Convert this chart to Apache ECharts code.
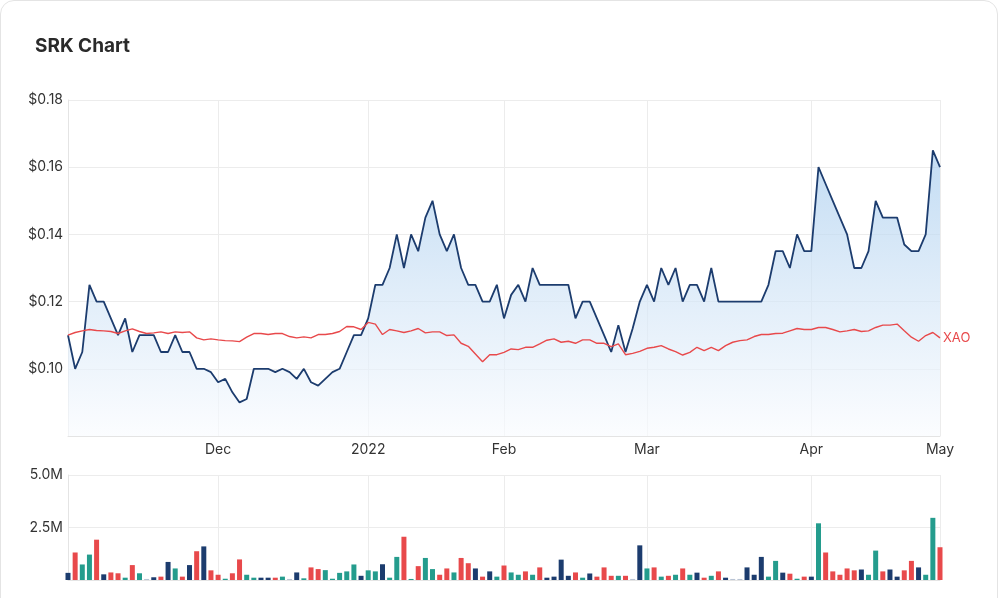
<!DOCTYPE html>
<html>
<head>
<meta charset="utf-8">
<title>SRK Chart</title>
<script src="https://cdn.jsdelivr.net/npm/echarts@6/dist/echarts.min.js"></script>
<style>
  html, body { margin: 0; padding: 0; background: #fff; overflow: hidden; }
  #card {
    position: absolute; left: 0; top: 0; width: 998px; height: 660px;
    border: 1px solid #e4e4e4; border-radius: 14px; box-sizing: border-box;
  }
  #chart { position: absolute; left: 0; top: 0; width: 1000px; height: 598px; }
</style>
</head>
<body>
<div id="card"></div>
<div id="chart"></div>
<script>
// trading days (ASX) from first to last session shown
const startDate = "2021-11-02";
const endDate = "2022-05-02";
const holidays = ["2021-12-27", "2021-12-28", "2022-01-03", "2022-01-26",
  "2022-04-15", "2022-04-18", "2022-04-25"];

// month labels on the x axis
const tickDates = ["2021-12-01", "2022-01-04", "2022-02-01", "2022-03-01", "2022-04-01", "2022-05-02"];
const tickLabels = ["Dec", "2022", "Feb", "Mar", "Apr", "May"];

// SRK close ($)
const srkClose = [
  0.110, 0.100, 0.105, 0.125, 0.120, 0.120, 0.115, 0.110, 0.115, 0.105,
  0.110, 0.110, 0.110, 0.105, 0.105, 0.110, 0.105, 0.105, 0.100, 0.100,
  0.099, 0.096, 0.097, 0.093, 0.090, 0.091, 0.100, 0.100, 0.100, 0.099,
  0.100, 0.099, 0.097, 0.100, 0.096, 0.095, 0.097, 0.099, 0.100, 0.105,
  0.110, 0.110, 0.115, 0.125, 0.125, 0.130, 0.140, 0.130, 0.140, 0.135,
  0.145, 0.150, 0.140, 0.135, 0.140, 0.130, 0.125, 0.125, 0.120, 0.120,
  0.125, 0.115, 0.122, 0.125, 0.120, 0.130, 0.125, 0.125, 0.125, 0.125,
  0.125, 0.115, 0.120, 0.120, 0.115, 0.110, 0.105, 0.113, 0.105, 0.112,
  0.120, 0.125, 0.120, 0.130, 0.125, 0.130, 0.120, 0.125, 0.125, 0.120,
  0.130, 0.120, 0.120, 0.120, 0.120, 0.120, 0.120, 0.120, 0.125, 0.135,
  0.135, 0.130, 0.140, 0.135, 0.135, 0.160, 0.155, 0.150, 0.145, 0.140,
  0.130, 0.130, 0.135, 0.150, 0.145, 0.145, 0.145, 0.137, 0.135, 0.135,
  0.140, 0.165, 0.160
];

// XAO, rebased onto the SRK price scale
const xaoRebased = [
  0.1100, 0.1108, 0.1113, 0.1117, 0.1114, 0.1113, 0.1111, 0.1105, 0.1113, 0.1119,
  0.1111, 0.1105, 0.1107, 0.1110, 0.1105, 0.1110, 0.1108, 0.1110, 0.1092, 0.1086,
  0.1089, 0.1086, 0.1084, 0.1083, 0.1081, 0.1094, 0.1105, 0.1105, 0.1102, 0.1105,
  0.1105, 0.1096, 0.1092, 0.1095, 0.1092, 0.1102, 0.1102, 0.1105, 0.1111, 0.1126,
  0.1125, 0.1117, 0.1138, 0.1133, 0.1102, 0.1117, 0.1113, 0.1108, 0.1113, 0.1120,
  0.1107, 0.1110, 0.1110, 0.1099, 0.1101, 0.1076, 0.1067, 0.1044, 0.1021, 0.1042,
  0.1042, 0.1049, 0.1059, 0.1057, 0.1064, 0.1064, 0.1074, 0.1085, 0.1089, 0.1079,
  0.1082, 0.1076, 0.1086, 0.1086, 0.1076, 0.1076, 0.1066, 0.1074, 0.1042, 0.1046,
  0.1052, 0.1061, 0.1064, 0.1069, 0.1059, 0.1051, 0.1041, 0.1049, 0.1064, 0.1054,
  0.1064, 0.1054, 0.1069, 0.1079, 0.1084, 0.1086, 0.1096, 0.1102, 0.1102, 0.1105,
  0.1106, 0.1113, 0.1120, 0.1117, 0.1117, 0.1123, 0.1123, 0.1117, 0.1110, 0.1113,
  0.1117, 0.1111, 0.1113, 0.1123, 0.1130, 0.1130, 0.1133, 0.1113, 0.1094, 0.1082,
  0.1099, 0.1108, 0.1092
];

// volume (millions of shares)
const volumeM = [
  0.34, 1.31, 0.74, 1.21, 1.92, 0.27, 0.36, 0.32, 0.11, 0.71,
  0.32, 0.05, 0.13, 0.16, 0.86, 0.55, 0.16, 0.71, 1.37, 1.60,
  0.46, 0.25, 0.06, 0.32, 0.98, 0.25, 0.11, 0.11, 0.11, 0.11,
  0.16, 0.05, 0.36, 0.08, 0.60, 0.52, 0.47, 0.06, 0.34, 0.41,
  0.74, 0.20, 0.46, 0.41, 0.75, 0.11, 1.10, 2.06, 0.05, 0.66,
  1.05, 0.52, 0.25, 0.55, 0.36, 1.05, 0.80, 0.55, 0.16, 0.41,
  0.16, 0.69, 0.36, 0.25, 0.41, 0.25, 0.60, 0.11, 0.16, 0.97,
  0.20, 0.36, 0.11, 0.31, 0.16, 0.60, 0.20, 0.20, 0.20, 0.05,
  1.65, 0.55, 0.60, 0.16, 0.20, 0.25, 0.55, 0.25, 0.35, 0.11,
  0.20, 0.41, 0.11, 0.05, 0.05, 0.60, 0.25, 1.10, 0.16, 0.91,
  0.35, 0.30, 0.06, 0.16, 0.16, 2.70, 1.31, 0.41, 0.25, 0.55,
  0.46, 0.50, 0.25, 1.40, 0.41, 0.50, 0.16, 0.46, 0.91, 0.60,
  0.25, 2.96, 1.56
];

// day move for each volume bar: u = up, d = down, f = flat, n = no move / thin
const volumeMove = [
  "f","d","u","u","d","f","d","d","u","d",
  "u","n","f","d","f","u","d","f","d","f",
  "d","d","u","d","d","u","u","f","f","d",
  "u","n","f","u","d","d","u","u","u","u",
  "u","f","u","u","f","u","u","d","u","d",
  "u","u","d","d","u","d","d","f","d","f",
  "u","d","u","u","d","u","d","f","f","f",
  "f","d","u","f","d","d","d","u","d","n",
  "f","u","d","u","d","u","d","u","f","d",
  "u","d","f","n","n","f","f","f","u","u",
  "f","d","u","d","f","u","d","d","d","d",
  "d","f","u","u","d","f","f","d","d","f",
  "u","u","d"
];

const NAVY = "#1c3c6e";
const RED = "#e8494b";
const TEAL = "#249c8d";
const moveColors = { u: TEAL, d: RED, f: NAVY, n: "#b9c4d4" };

const tradingDays = [];
(function () {
  let d = new Date(startDate + "T00:00:00Z");
  const end = new Date(endDate + "T00:00:00Z");
  while (d <= end) {
    const s = d.toISOString().slice(0, 10);
    const wd = d.getUTCDay();
    if (wd !== 0 && wd !== 6 && holidays.indexOf(s) < 0) tradingDays.push(s);
    d = new Date(d.getTime() + 86400000);
  }
})();

const isTick = (idx, val) => tickDates.indexOf(val) >= 0;
const FONT = "Inter, 'Noto Sans', sans-serif";

const chart = echarts.init(document.getElementById("chart"));

const option = {
  animation: false,
  textStyle: { fontFamily: FONT },
  title: {
    text: "SRK Chart",
    left: 30,
    top: 32,
    textStyle: { fontSize: 19, fontWeight: "bold", color: "#2a2a2a", fontFamily: FONT }
  },
  grid: [
    { left: 68, right: 60, top: 100, height: 336 },
    { left: 68, right: 60, top: 475, height: 105 }
  ],
  xAxis: [
    {
      type: "category",
      gridIndex: 0,
      data: tradingDays,
      boundaryGap: false,
      axisLine: { lineStyle: { color: "#e4e4e4" } },
      axisTick: { show: false },
      axisLabel: {
        interval: isTick,
        formatter: v => tickLabels[tickDates.indexOf(v)] || "",
        color: "#333",
        fontSize: 14,
        margin: 7
      },
      splitLine: { show: true, interval: isTick, lineStyle: { color: "#ececec" } }
    },
    {
      type: "category",
      gridIndex: 1,
      data: tradingDays,
      boundaryGap: false,
      axisLine: { lineStyle: { color: "#e4e4e4" } },
      axisTick: { show: false },
      axisLabel: { show: false },
      splitLine: { show: true, interval: isTick, lineStyle: { color: "#ececec" } }
    }
  ],
  yAxis: [
    {
      type: "value",
      gridIndex: 0,
      min: 0.08,
      max: 0.18,
      interval: 0.02,
      axisLine: { show: true, lineStyle: { color: "#e4e4e4" } },
      axisTick: { show: false },
      axisLabel: {
        color: "#333",
        fontSize: 14,
        margin: 5,
        formatter: v => (v < 0.09 ? "" : "$" + v.toFixed(2))
      },
      splitLine: { lineStyle: { color: "#ececec" } }
    },
    {
      type: "value",
      gridIndex: 1,
      min: 0,
      max: 5,
      interval: 2.5,
      axisLine: { show: true, lineStyle: { color: "#e4e4e4" } },
      axisTick: { show: false },
      axisLabel: {
        color: "#333",
        fontSize: 14,
        margin: 5,
        formatter: v => (v === 0 ? "" : v.toFixed(1) + "M")
      },
      splitLine: { lineStyle: { color: "#ececec" } }
    }
  ],
  series: [
    {
      name: "SRK",
      type: "line",
      xAxisIndex: 0,
      yAxisIndex: 0,
      data: srkClose,
      showSymbol: false,
      lineStyle: { color: NAVY, width: 1.8 },
      areaStyle: {
        color: new echarts.graphic.LinearGradient(0, 0, 0, 1, [
          { offset: 0, color: "#a9cdee" },
          { offset: 0.5, color: "#d3e5f6" },
          { offset: 1, color: "#f9fbfe" }
        ])
      },
      z: 2
    },
    {
      name: "XAO",
      type: "line",
      xAxisIndex: 0,
      yAxisIndex: 0,
      data: xaoRebased,
      showSymbol: false,
      lineStyle: { color: RED, width: 1.4 },
      endLabel: {
        show: true,
        formatter: "XAO",
        color: RED,
        fontSize: 13,
        distance: 3
      },
      z: 3
    },
    {
      name: "Volume",
      type: "bar",
      xAxisIndex: 1,
      yAxisIndex: 1,
      clip: false,
      barWidth: 5,
      data: volumeM.map((v, i) => ({ value: v, itemStyle: { color: moveColors[volumeMove[i]] } }))
    }
  ]
};

chart.setOption(option);
</script>
</body>
</html>
